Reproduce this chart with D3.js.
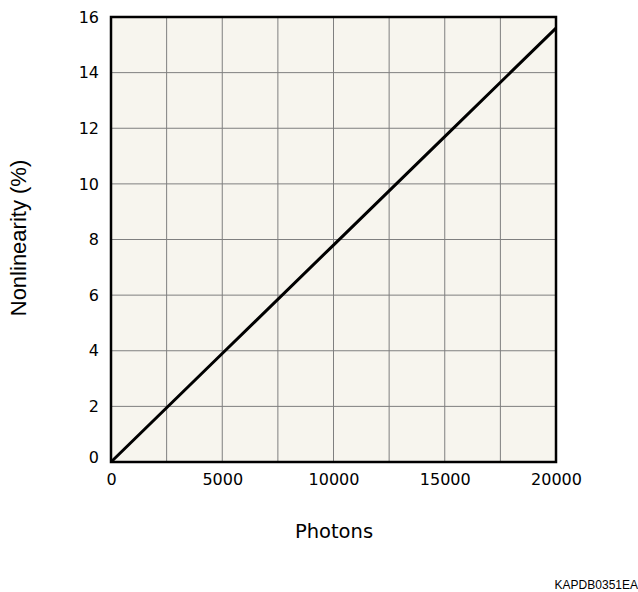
<!DOCTYPE html>
<html><head><meta charset="utf-8">
<script src="https://cdn.jsdelivr.net/npm/d3@7"></script>
<style>body{margin:0;background:#fff}</style>
</head><body>
<svg id="c" width="638" height="592"></svg>
<script>
const photons = [0, 5000, 10000, 15000, 20000];
const nonlinearity = [0, 3.9, 7.8, 11.7, 15.6];
const xTicks = [0, 5000, 10000, 15000, 20000];
const yTicks = [0, 2, 4, 6, 8, 10, 12, 14, 16];
const xGrid = [2500, 5000, 7500, 10000, 12500, 15000, 17500];
const yGrid = [2, 4, 6, 8, 10, 12, 14];

const svg = d3.select('#c');
const L = 111, R = 556, T = 17, B = 462;
const x = d3.scaleLinear().domain([0, 20000]).range([L, R]);
const y = d3.scaleLinear().domain([0, 16]).range([B, T]);

svg.append('rect').attr('x', L).attr('y', T).attr('width', R - L).attr('height', B - T).attr('fill', '#f7f5ee');

svg.append('g').selectAll('line').data(xGrid).join('line')
  .attr('x1', d => x(d)).attr('x2', d => x(d)).attr('y1', T).attr('y2', B)
  .attr('stroke', '#7f7f7f').attr('stroke-width', 1);
svg.append('g').selectAll('line').data(yGrid).join('line')
  .attr('y1', d => y(d)).attr('y2', d => y(d)).attr('x1', L).attr('x2', R)
  .attr('stroke', '#7f7f7f').attr('stroke-width', 1);

const line = d3.line().x((d, i) => x(photons[i])).y(d => y(d));
svg.append('path').datum(nonlinearity).attr('d', line)
  .attr('fill', 'none').attr('stroke', '#000').attr('stroke-width', 3);

svg.append('rect').attr('x', L).attr('y', T).attr('width', R - L).attr('height', B - T)
  .attr('fill', 'none').attr('stroke', '#000').attr('stroke-width', 2.5);

const xAxis = d3.axisBottom(x).tickValues(xTicks).tickSize(0).tickPadding(12).tickFormat(d3.format('d'));
const gx = svg.append('g').attr('transform', `translate(0,${B})`).call(xAxis);
const yAxis = d3.axisLeft(y).tickValues(yTicks).tickSize(0).tickPadding(12).tickFormat(d3.format('d'));
const gy = svg.append('g').attr('transform', `translate(${L},0)`).call(yAxis);
[gx, gy].forEach(g => {
  g.select('.domain').remove();
  g.selectAll('text').attr('font-family', 'DejaVu Sans').attr('font-size', 16).attr('fill', '#000');
});
gy.selectAll('.tick').filter(d => d === 0).select('text').attr('dy', '-0.0em');

svg.append('text').attr('x', 334).attr('y', 538).attr('text-anchor', 'middle')
  .attr('font-family', 'DejaVu Sans').attr('font-size', 19.5).text('Photons');
svg.append('text').attr('transform', 'translate(26,238) rotate(-90)').attr('text-anchor', 'middle')
  .attr('font-family', 'Liberation Sans').attr('font-size', 22).text('Nonlinearity (%)');
svg.append('text').attr('x', 638).attr('y', 589).attr('text-anchor', 'end')
  .attr('font-family', 'Liberation Sans').attr('font-size', 12).text('KAPDB0351EA');
</script>
</body></html>
